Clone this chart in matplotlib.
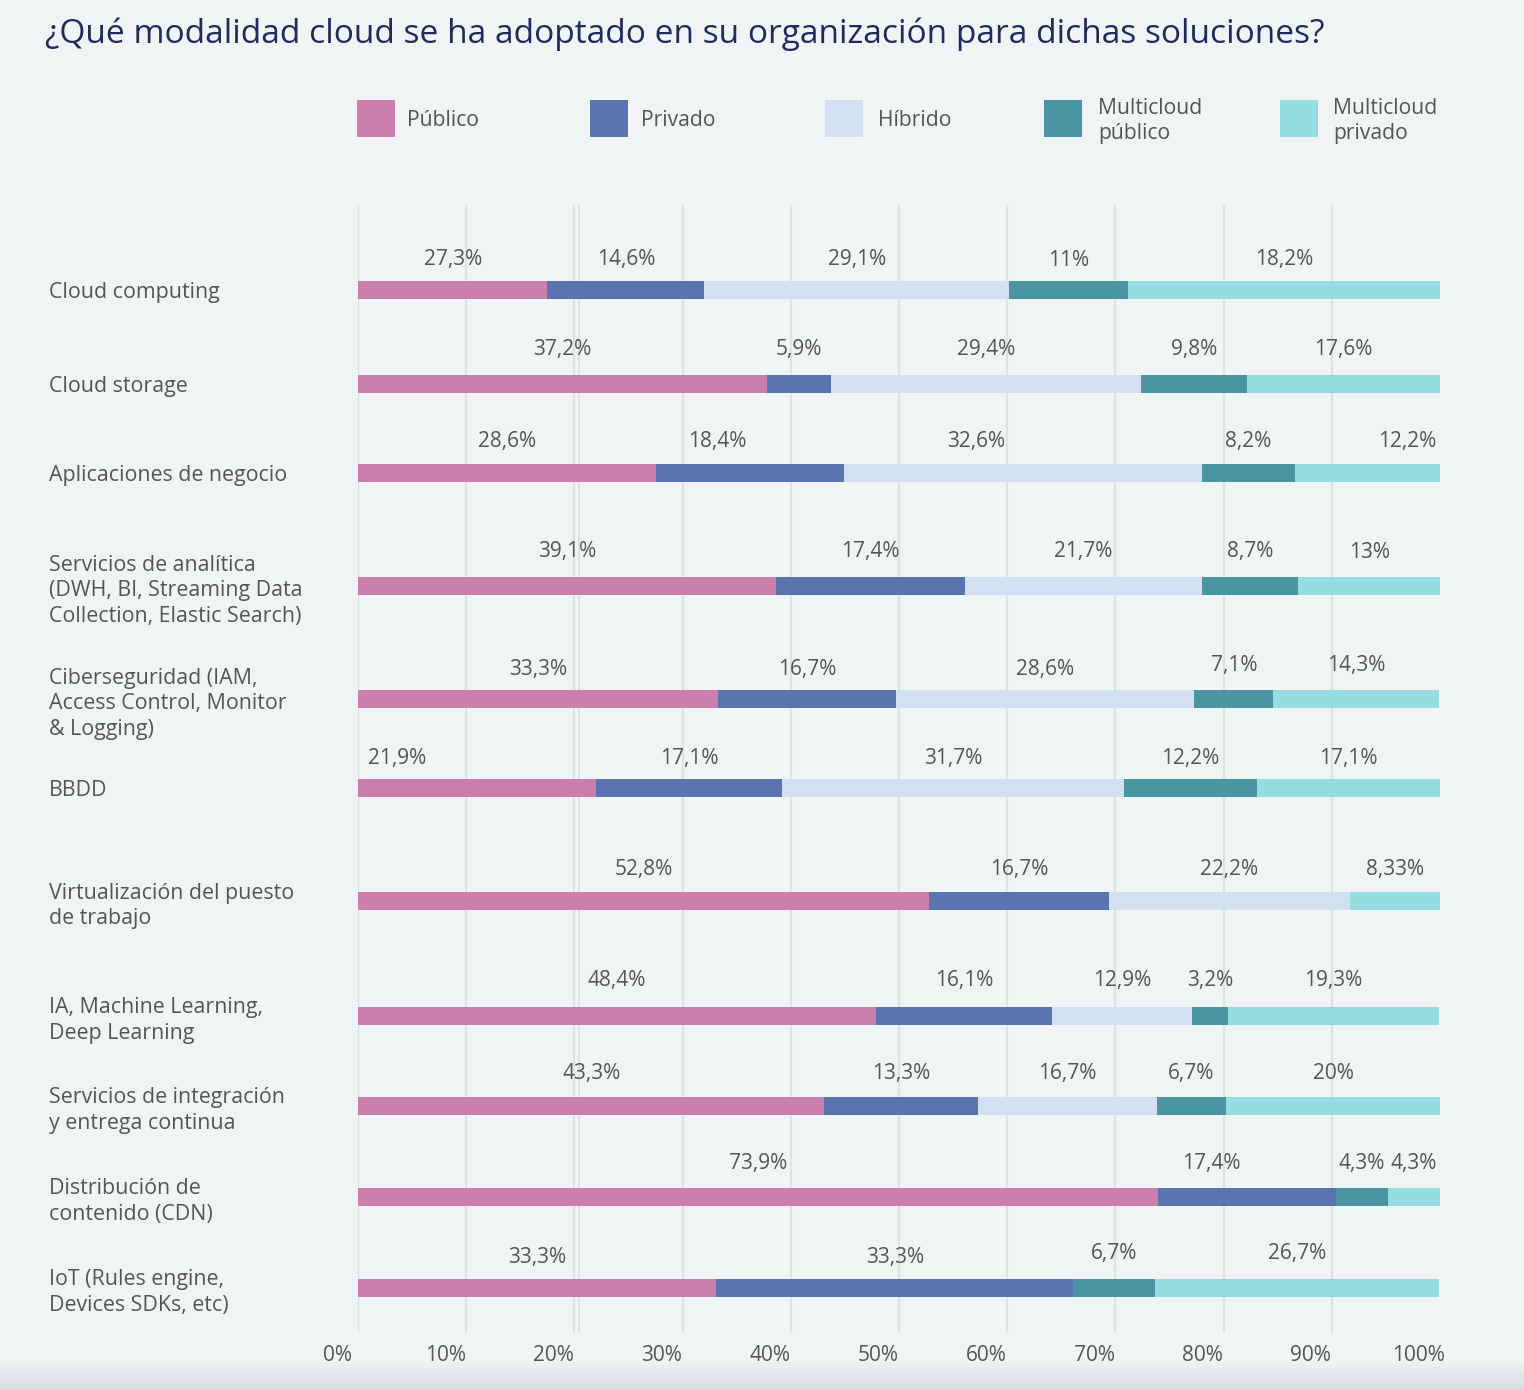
import matplotlib
matplotlib.use("Agg")
import matplotlib.pyplot as plt
import matplotlib.transforms as mtransforms
from matplotlib.patches import Rectangle
import numpy as np

plt.rcParams['font.family'] = ['Open Sans', 'DejaVu Sans']

# ---------------- data ----------------
title = "¿Qué modalidad cloud se ha adoptado en su organización para dichas soluciones?"

categories = [
    "Cloud computing",
    "Cloud storage",
    "Aplicaciones de negocio",
    "Servicios de analítica\n(DWH, BI, Streaming Data\nCollection, Elastic Search)",
    "Ciberseguridad (IAM,\nAccess Control, Monitor\n& Logging)",
    "BBDD",
    "Virtualización del puesto\nde trabajo",
    "IA, Machine Learning,\nDeep Learning",
    "Servicios de integración\ny entrega continua",
    "Distribución de\ncontenido (CDN)",
    "IoT (Rules engine,\nDevices SDKs, etc)",
]

series_names = ["Público", "Privado", "Híbrido", "Multicloud\npúblico", "Multicloud\nprivado"]

# segment lengths as drawn (percent of the bar)
publico    = [17.5, 37.8, 27.5, 38.6, 33.3, 22.0, 52.8, 47.9, 43.1, 73.9, 33.1]
privado    = [14.5,  5.9, 17.4, 17.5, 16.4, 17.2, 16.6, 16.2, 14.2, 16.5, 33.0]
hibrido    = [28.2, 28.7, 33.1, 21.9, 27.6, 31.6, 22.3, 13.0, 16.5,  0.0,  0.0]
mc_publico = [11.0,  9.8,  8.6,  8.9,  7.3, 12.3,  0.0,  3.3,  6.4,  4.8,  7.6]
mc_privado = [28.8, 17.8, 13.4, 13.1, 15.3, 16.9,  8.3, 19.5, 19.9,  4.8, 26.2]

# value labels shown above each segment
labels_publico    = ["27,3%", "37,2%", "28,6%", "39,1%", "33,3%", "21,9%", "52,8%", "48,4%", "43,3%", "73,9%", "33,3%"]
labels_privado    = ["14,6%", "5,9%", "18,4%", "17,4%", "16,7%", "17,1%", "16,7%", "16,1%", "13,3%", "17,4%", "33,3%"]
labels_hibrido    = ["29,1%", "29,4%", "32,6%", "21,7%", "28,6%", "31,7%", "22,2%", "12,9%", "16,7%", "", ""]
labels_mc_publico = ["11%", "9,8%", "8,2%", "8,7%", "7,1%", "12,2%", "", "3,2%", "6,7%", "4,3%", "6,7%"]
labels_mc_privado = ["18,2%", "17,6%", "12,2%", "13%", "14,3%", "17,1%", "8,33%", "19,3%", "20%", "4,3%", "26,7%"]

x_ticks = [0, 10, 20, 30, 40, 50, 60, 70, 80, 90, 100]
x_tick_labels = ["0%", "10%", "20%", "30%", "40%", "50%", "60%", "70%", "80%", "90%", "100%"]

# ---------------- style / layout ----------------
W, H = 1524, 1390
BG = "#f0f4f5"
colors = ["#cb7fac", "#5a74b0", "#d2e0f2", "#4a95a2", "#96dde2"]
TXT = "#555555"
FS = 15

row_px = [290, 384, 473, 586, 699, 787.5, 901, 1015.5, 1105.5, 1197, 1288]
label_lift = [30, 35, 31, 34, 29, 29, 31, 35, 32, 34, 30]
label_extra = {(4, 3): 5, (4, 4): 5, (10, 3): 4, (10, 4): 4}
label_nudge = {(2, 1): -3.0, (2, 2): -4.3, (2, 4): 3.7, (5, 0): -7.4, (9, 1): -3.3}

fig = plt.figure(figsize=(W / 100, H / 100), dpi=100, facecolor=BG)

# bottom shading band
gax = fig.add_axes([0, 0, 1, 30 / H], zorder=-5)
grad = np.linspace(0, 1, 64)[:, None]
c0 = np.array([0.941, 0.957, 0.961])
c1 = np.array([0.855, 0.867, 0.875])
img = c0[None, None, :] * (1 - grad[..., None]) + c1[None, None, :] * grad[..., None]
img = np.repeat(img, 2, axis=1)
gax.imshow(img, aspect="auto", extent=[0, 1, 0, 1])
gax.set_axis_off()

ax = fig.add_axes([358 / W, 1 - 1333 / H, 1082 / W, 1128 / H])
ax.set_facecolor("none")
ax.set_xlim(0, 100)
ax.set_ylim(1333, 205)

for v in x_ticks[:-1]:
    ax.axvline(v, color="#dde2e5", lw=1.6, zorder=0)
ax.axvline(20.4, color="#dde2e5", lw=1.4, zorder=0)

series_vals = [publico, privado, hibrido, mc_publico, mc_privado]
series_labels = [labels_publico, labels_privado, labels_hibrido, labels_mc_publico, labels_mc_privado]

lefts = np.zeros(len(categories))
for j, (vals, col, labs) in enumerate(zip(series_vals, colors, series_labels)):
    vals = np.array(vals)
    ax.barh(row_px, vals, left=lefts, height=18, color=col, linewidth=0, zorder=2)
    for i, (l, v, lab) in enumerate(zip(lefts, vals, labs)):
        if lab:
            cx = l + v / 2 + label_nudge.get((i, j), 0)
            cy = row_px[i] - label_lift[i] - label_extra.get((i, j), 0)
            ax.text(cx, cy, lab, ha="center", va="center", fontsize=FS, color=TXT, zorder=3)
    lefts = lefts + vals

for s in ax.spines.values():
    s.set_visible(False)

ax.set_xticks(x_ticks, x_tick_labels)
ax.tick_params(axis="x", length=0, pad=8.5, labelsize=FS, labelcolor=TXT)
offset = mtransforms.ScaledTranslation(-21 / 100, 0, fig.dpi_scale_trans)
for lbl in ax.get_xticklabels():
    lbl.set_transform(lbl.get_transform() + offset)

ax.set_yticks(row_px, categories)
ax.tick_params(axis="y", length=0, pad=309 * 0.72, labelsize=15.4, labelcolor=TXT)
for lbl in ax.get_yticklabels():
    lbl.set_horizontalalignment("left")
    lbl.set_multialignment("left")
    lbl.set_linespacing(1.3)

# title
fig.text(45 / W, 1 - 43 / H, title, fontsize=24.1, color="#1f2b5c", ha="left", va="baseline",
         fontweight="medium")

# legend
leg_patch_x = [357, 590, 825, 1044, 1280]
leg_text_x = [407, 641, 878, 1098, 1333]
for name, col, px, tx in zip(series_names, colors, leg_patch_x, leg_text_x):
    fig.patches.append(Rectangle((px / W, 1 - 137 / H), 38 / W, 37 / H,
                                 transform=fig.transFigure, facecolor=col, edgecolor="none"))
    fig.text(tx / W, 1 - 121 / H, name, fontsize=15.2, color=TXT, ha="left", va="center",
             linespacing=1.2)

fig.savefig("out.png", dpi=100, facecolor=BG)
